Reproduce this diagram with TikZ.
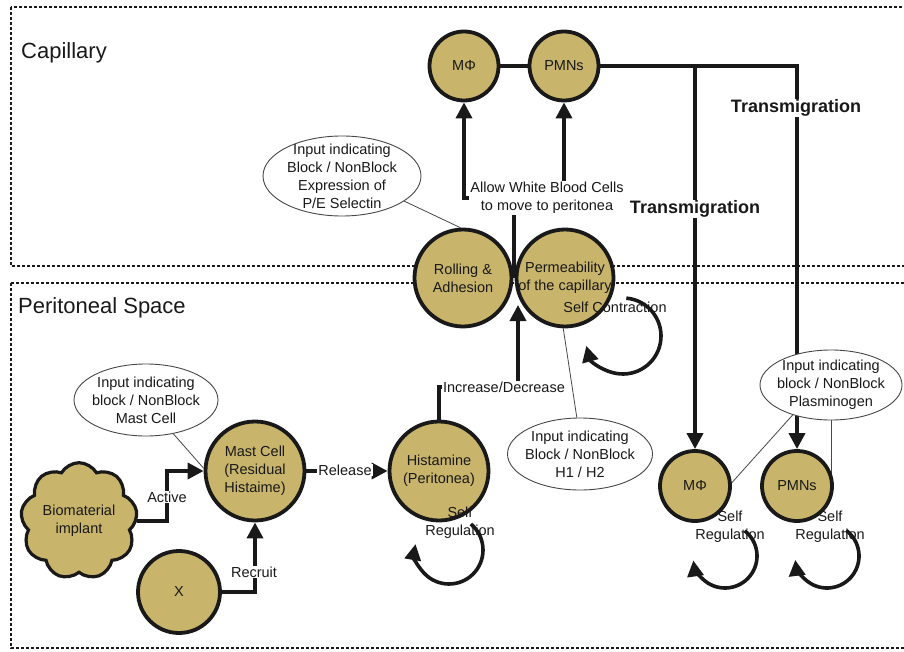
\documentclass[tikz,border=0pt]{standalone}
\usepackage{fontspec}
\setmainfont{Liberation Sans}
\usetikzlibrary{shapes.geometric,shapes.symbols,arrows.meta,backgrounds,calc}
\definecolor{khaki}{RGB}{200,180,106}
\definecolor{ink}{RGB}{25,25,25}
\begin{document}
\begin{tikzpicture}[x=1pt,y=-1pt,
  lbl/.style={font=\fontsize{14.5}{18}\selectfont, text=ink, align=center},
  cellnode/.style={lbl, circle, draw=ink, line width=3.8pt, fill=khaki, inner sep=-12pt},
  inputnode/.style={lbl, ellipse, draw=ink!80, line width=0.9pt, fill=white, inner xsep=-20pt, inner ysep=-15pt},
  linkline/.style={draw=ink, line width=3.6pt},
  arrowline/.style={linkline, -{Triangle[length=16pt,width=16pt]}},
  thinlink/.style={draw=ink!80, line width=0.8pt},
  edgetag/.style={lbl, fill=white, inner sep=1pt},
  boldtag/.style={edgetag, font=\fontsize{18}{20}\selectfont\bfseries},
  zonebox/.style={draw=ink, line width=1.4pt, dash pattern=on 3pt off 2pt},
  zonetitle/.style={font=\fontsize{22}{24}\selectfont, text=ink, anchor=base west, inner sep=0pt},
  selfloop/.style={linkline, -{Triangle[length=16pt,width=16pt]}}
]
\useasboundingbox (0,0) rectangle (904,652);

% zones
\begin{scope}[on background layer]
\draw[zonebox] (11,7) rectangle (915,266);
\draw[zonebox] (11,283) rectangle (915,648);
\end{scope}
\node[zonetitle] (captitle) at (21,59) {Capillary};
\node[zonetitle] (pertitle) at (18,313) {Peritoneal Space};

% cells
\node[cellnode, minimum size=69pt] (mtop) at (464,66) {MΦ};
\node[cellnode, minimum size=69pt] (ptop) at (564,66) {PMNs};
\node[cellnode, minimum size=97pt] (roll) at (463,278) {Rolling \&\\Adhesion};
\node[cellnode, minimum size=97pt] (perm) at (565,278) {Permeability\\of the capillary};
\node[cellnode, minimum size=99pt] (hist) at (439,471) {Histamine\\(Peritonea)};
\node[cellnode, minimum size=99pt] (mast) at (255,471) {Mast Cell\\(Residual\\Histaime)};
\node[cellnode, minimum size=82pt] (xnode) at (179,592) {X};
\node[cellnode, minimum size=70pt] (mlow) at (695,486) {MΦ};
\node[cellnode, minimum size=70pt] (plow) at (797,486) {PMNs};
\node[lbl, cloud, cloud puffs=9, cloud puff arc=120, aspect=1, draw=ink, line width=3.2pt, fill=khaki,
      minimum width=106pt, minimum height=106pt, inner sep=0pt] (bio) at (79,521) {Biomaterial\\implant};

% inputs
\node[inputnode, minimum width=158pt, minimum height=80pt] (sel) at (342,176) {Input indicating\\Block / NonBlock\\Expression of\\P/E Selectin};
\node[inputnode, minimum width=144pt, minimum height=72pt] (mastin) at (146,400) {Input indicating\\block / NonBlock\\Mast Cell};
\node[inputnode, minimum width=145pt, minimum height=72pt] (h1h2) at (580,454) {Input indicating\\Block / NonBlock\\H1 / H2};
\node[inputnode, minimum width=142pt, minimum height=70pt] (plas) at (831,385) {Input indicating\\block / NonBlock\\Plasminogen};

% edge labels
\node[edgetag] (allow) at (547,198) {Allow White Blood Cells\\to move to peritonea};
\node[edgetag] (incr) at (504,387) {Increase/Decrease};
\node[edgetag] (rel) at (345,470) {Release};
\node[edgetag] (active) at (167,497) {Active};
\node[edgetag] (recruit) at (254,572) {Recruit};
\node[boldtag] (tm1) at (796,108) {Transmigration};
\node[boldtag] (tm2) at (695,209) {Transmigration};

\coordinate (jtop) at ($(roll.east)!0.5!(perm.west)$);
\coordinate (jbot) at (518,305);

\begin{scope}[on background layer]
\draw[linkline] (mtop) -- (ptop);
\draw[arrowline] (ptop.east) -- (ptop.east -| plow.north) -- (plow.north);
\draw[arrowline] (ptop.east -| mlow.north) -- (mlow.north);
\draw[arrowline] (jtop) -- (jtop |- allow) -| (mtop.south);
\draw[arrowline] (jtop |- allow) -| (ptop.south);
\draw[arrowline] (hist.north) |- (jbot |- incr) -- (jbot);
\draw[arrowline] (mast) -- (hist);
\draw[arrowline] (bio.east) -- (bio.east -| active) |- (mast.west);
\draw[arrowline] (xnode.east) -| (mast.south);
\draw[thinlink] (sel.-22) -- (roll.93);
\draw[thinlink] (mastin.-51) -- (mast.177);
\draw[thinlink] (h1h2.95) -- (perm.-92);
\draw[thinlink] (plas.-142) -- (mlow.5);
\draw[thinlink] (plas.south) -- (plas.south |- plow.center);
\end{scope}

% self loops
\node[lbl] (permself) at (615,307) {Self Contraction};
\node[lbl] (histself) at (460,523) {Self\\Regulation};
\node[lbl] (mlowself) at (730,527) {Self\\Regulation};
\node[lbl] (plowself) at (830,527) {Self\\Regulation};

\coordinate (permc) at (623,336);
\coordinate (histc) at (449,550);
\coordinate (mlowc) at (725,556);
\coordinate (plowc) at (827,556);
\draw[selfloop] ($(permc)+(-85:38)$) arc[start angle=-85, end angle=165, radius=38];
\draw[selfloop] ($(histc)+(-50:34)$) arc[start angle=-50, end angle=190, radius=34];
\draw[selfloop] ($(mlowc)+(-52:32)$) arc[start angle=-52, end angle=172, radius=32];
\draw[selfloop] ($(plowc)+(-53:32)$) arc[start angle=-53, end angle=173, radius=32];
\end{tikzpicture}
\end{document}
